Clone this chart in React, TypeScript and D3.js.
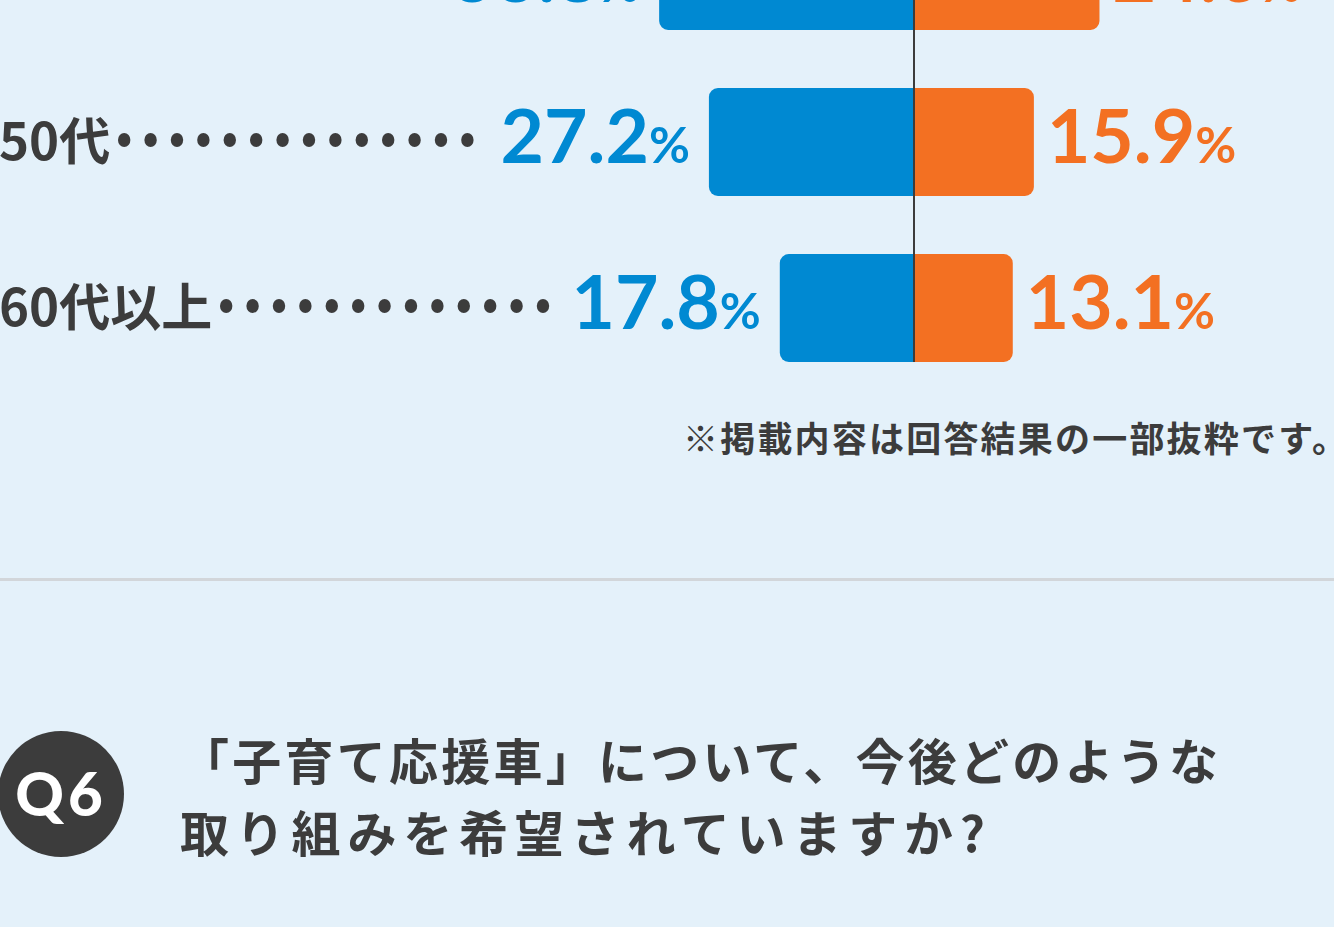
import React, { useEffect, useRef } from "react";
import * as d3 from "d3";

const categories = ["40代", "50代", "60代以上"];
const blueValues = [33.8, 27.2, 17.8];
const orangeValues = [24.6, 15.9, 13.1];
const noteText = "※掲載内容は回答結果の一部抜粋です。";
const questionNo = "Q6";
const questionLines = ["「子育て応援車」について、今後どのような", "取り組みを希望されていますか?"];

const W = 1334;
const H = 927;
const BG = "#e4f1fa";
const BLUE = "#0089d2";
const ORANGE = "#f37022";
const DARK = "#3c3c3c";
const JP = "'Noto Sans CJK JP', 'Noto Sans', sans-serif";
const NUM = "Lato, 'Open Sans', sans-serif";

function barPath(x0: number, x1: number, y0: number, y1: number, r: number, roundLeft: boolean) {
  const p = d3.path();
  if (roundLeft) {
    p.moveTo(x1, y0);
    p.lineTo(x0 + r, y0);
    p.arcTo(x0, y0, x0, y0 + r, r);
    p.lineTo(x0, y1 - r);
    p.arcTo(x0, y1, x0 + r, y1, r);
    p.lineTo(x1, y1);
    p.closePath();
  } else {
    p.moveTo(x0, y0);
    p.lineTo(x1 - r, y0);
    p.arcTo(x1, y0, x1, y0 + r, r);
    p.lineTo(x1, y1 - r);
    p.arcTo(x1, y1, x1 - r, y1, r);
    p.lineTo(x0, y1);
    p.closePath();
  }
  return p.toString();
}

export default function App() {
  const ref = useRef<SVGSVGElement | null>(null);

  useEffect(() => {
    const svg = d3.select(ref.current);
    svg.selectAll("*").remove();

    svg.append("rect").attr("width", W).attr("height", H).attr("fill", BG);

    const cx = 914;
    const pxPerPct = 7.54;
    const xLeft = d3.scaleLinear().domain([0, 100]).range([cx, cx - 100 * pxPerPct]);
    const xRight = d3.scaleLinear().domain([0, 100]).range([cx, cx + 100 * pxPerPct]);
    const y = d3.scalePoint<string>().domain(categories).range([-24, 308]);
    const barH = 108;

    const g = svg.append("g");

    categories.forEach((cat, i) => {
      const cy = y(cat)!;
      const y0 = cy - barH / 2;
      const y1 = cy + barH / 2;
      const bl = xLeft(blueValues[i]);
      const or = xRight(orangeValues[i]);
      const base = i === 0 ? cy + 26 : cy + 21;

      g.append("path").attr("d", barPath(bl, cx, y0, y1, 9, true)).attr("fill", BLUE);
      g.append("path").attr("d", barPath(cx, or, y0, y1, 9, false)).attr("fill", ORANGE);

      const bt = g
        .append("text")
        .attr("x", bl - 19)
        .attr("y", base)
        .attr("text-anchor", "end")
        .attr("fill", BLUE)
        .attr("font-family", NUM)
        .attr("font-weight", 700)
        .attr("font-size", 75);
      bt.append("tspan").text(blueValues[i].toFixed(1));
      bt.append("tspan").attr("font-size", 50).text("%");

      const ot = g
        .append("text")
        .attr("x", or + 13)
        .attr("y", base)
        .attr("fill", ORANGE)
        .attr("font-family", NUM)
        .attr("font-weight", 700)
        .attr("font-size", 75);
      ot.append("tspan").text(orangeValues[i].toFixed(1));
      ot.append("tspan").attr("font-size", 50).text("%");

      const ct = g
        .append("text")
        .attr("x", -1)
        .attr("y", cy + 18)
        .attr("fill", DARK)
        .attr("font-family", JP)
        .attr("font-weight", 700)
        .attr("font-size", 51)
        .text(cat);

      const catEnd = -1 + (ct.node() as SVGTextElement).getComputedTextLength();
      const btBox = (bt.node() as SVGTextElement).getBBox();
      const dotStart = catEnd + 14;
      const dotEnd = btBox.x - 26;
      const spacing = 26.4;
      const n = Math.floor((dotEnd - dotStart) / spacing) + 1;
      for (let k = 0; k < n; k++) {
        g.append("ellipse")
          .attr("cx", dotStart + k * spacing)
          .attr("cy", cy - 2)
          .attr("rx", 6.2)
          .attr("ry", 7)
          .attr("fill", DARK);
      }
    });

    g.append("line")
      .attr("x1", cx)
      .attr("x2", cx)
      .attr("y1", y(categories[0])! - barH / 2 - 20)
      .attr("y2", y(categories[categories.length - 1])! + barH / 2)
      .attr("stroke", DARK)
      .attr("stroke-width", 2);

    svg
      .append("text")
      .attr("x", 683)
      .attr("y", 452)
      .attr("fill", DARK)
      .attr("font-family", JP)
      .attr("font-weight", 700)
      .attr("font-size", 35)
      .attr("letter-spacing", 2.2)
      .text(noteText);

    svg.append("rect").attr("x", 0).attr("y", 578).attr("width", W).attr("height", 3).attr("fill", "#d2d6da");

    svg.append("circle").attr("cx", 61).attr("cy", 794).attr("r", 63).attr("fill", DARK);
    svg
      .append("text")
      .attr("x", 61)
      .attr("y", 816)
      .attr("text-anchor", "middle")
      .attr("fill", "#ffffff")
      .attr("font-family", NUM)
      .attr("font-weight", 900)
      .attr("font-size", 60)
      .attr("letter-spacing", 4)
      .text(questionNo);

    const qWidths = [1038, 805];
    const qBase = [780, 852];
    questionLines.forEach((line, i) => {
      svg
        .append("text")
        .attr("x", 180)
        .attr("y", qBase[i])
        .attr("fill", DARK)
        .attr("font-family", JP)
        .attr("font-weight", 700)
        .attr("font-size", 49)
        .attr("textLength", qWidths[i])
        .attr("lengthAdjust", "spacing")
        .text(line);
    });
  }, []);

  return (
    <svg
      ref={ref}
      width={W}
      height={H}
      style={{ position: "absolute", left: 0, top: 0, display: "block" }}
    />
  );
}
